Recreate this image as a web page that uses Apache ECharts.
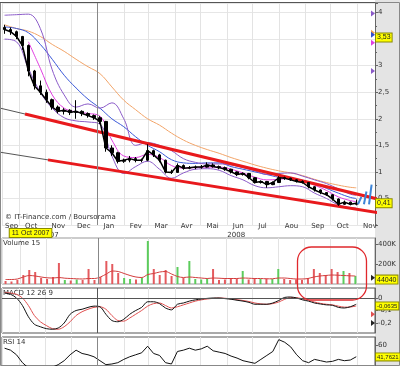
<!DOCTYPE html>
<html><head><meta charset="utf-8">
<script src="https://cdn.jsdelivr.net/npm/echarts@6/dist/echarts.min.js"></script>
<style>html,body{margin:0;padding:0;background:#fff}#c{width:400px;height:366px;background:linear-gradient(to right,#fff 375px,#e4e4e4 375px)}</style>
</head><body><div id="c"></div><script>
// ---------- data ----------
const weeks = ['2007-09-14','2007-09-21','2007-09-28','2007-10-05','2007-10-12','2007-10-19','2007-10-26','2007-11-02','2007-11-09','2007-11-16','2007-11-23','2007-11-30','2007-12-07','2007-12-14','2007-12-21','2007-12-28','2008-01-04','2008-01-11','2008-01-18','2008-01-25','2008-02-01','2008-02-08','2008-02-15','2008-02-22','2008-02-29','2008-03-07','2008-03-14','2008-03-21','2008-03-28','2008-04-04','2008-04-11','2008-04-18','2008-04-25','2008-05-02','2008-05-09','2008-05-16','2008-05-23','2008-05-30','2008-06-06','2008-06-13','2008-06-20','2008-06-27','2008-07-04','2008-07-11','2008-07-18','2008-07-25','2008-08-01','2008-08-08','2008-08-15','2008-08-22','2008-08-29','2008-09-05','2008-09-12','2008-09-19','2008-09-26','2008-10-03','2008-10-10','2008-10-17','2008-10-24','2008-10-31'];
const open  = [3.72,3.68,3.64,3.55,3.38,2.90,2.62,2.50,2.36,2.22,2.14,2.16,2.12,2.14,2.10,2.06,2.02,1.95,1.45,1.36,1.20,1.22,1.25,1.22,1.22,1.40,1.32,1.22,1.00,0.99,1.12,1.07,1.08,1.09,1.09,1.13,1.10,1.08,1.05,1.00,0.95,0.97,0.89,0.80,0.82,0.76,0.80,0.89,0.88,0.85,0.82,0.80,0.72,0.66,0.61,0.57,0.49,0.39,0.43,0.39];
const high  = [3.77,3.72,3.66,3.56,3.40,2.92,2.72,2.55,2.38,2.25,2.20,2.18,2.35,2.16,2.12,2.08,2.05,1.96,1.50,1.38,1.25,1.30,1.28,1.25,1.52,1.42,1.34,1.23,1.04,1.16,1.14,1.11,1.12,1.13,1.18,1.16,1.12,1.10,1.06,1.01,0.99,0.98,0.90,0.84,0.83,0.82,0.92,0.91,0.89,0.86,0.84,0.81,0.73,0.67,0.62,0.58,0.50,0.46,0.44,0.48];
const low   = [3.60,3.58,3.50,3.30,2.80,2.55,2.45,2.30,2.17,2.10,2.08,2.07,2.00,2.05,2.02,1.98,1.90,1.38,1.30,1.16,1.17,1.18,1.18,1.18,1.20,1.28,1.18,0.97,0.96,0.98,1.04,1.05,1.05,1.06,1.08,1.08,1.05,1.02,0.97,0.92,0.93,0.86,0.78,0.78,0.70,0.75,0.79,0.85,0.83,0.80,0.78,0.69,0.63,0.58,0.55,0.46,0.36,0.38,0.37,0.37];
const close = [3.68,3.64,3.55,3.38,2.90,2.62,2.50,2.36,2.22,2.14,2.16,2.12,2.14,2.10,2.06,2.02,1.95,1.45,1.36,1.20,1.22,1.25,1.22,1.22,1.40,1.32,1.22,1.00,0.99,1.12,1.07,1.08,1.09,1.09,1.13,1.10,1.08,1.05,1.00,0.95,0.97,0.89,0.80,0.82,0.76,0.80,0.89,0.88,0.85,0.82,0.80,0.72,0.66,0.61,0.57,0.49,0.39,0.43,0.39,0.41];
const volumeK = [30,25,40,90,140,120,60,50,70,210,40,35,45,40,150,40,70,230,200,110,60,50,45,60,430,150,90,140,80,170,60,230,50,45,50,150,40,45,60,50,130,45,60,50,55,50,150,50,40,45,40,60,150,110,90,150,120,130,110,80];
const volumeMA = [45,45,50,70,85,80,70,62,60,65,58,55,52,50,55,55,70,100,130,125,105,85,70,65,95,105,120,125,100,75,65,70,65,60,55,60,58,55,55,55,60,58,55,55,52,52,60,60,55,50,50,55,70,80,85,90,88,85,82,80];
const macd = [0.04,0.03,0.0,-0.06,-0.15,-0.21,-0.23,-0.245,-0.25,-0.24,-0.2,-0.13,-0.1,-0.09,-0.075,-0.065,-0.07,-0.13,-0.18,-0.19,-0.17,-0.13,-0.1,-0.075,-0.03,-0.03,-0.045,-0.08,-0.095,-0.05,-0.04,-0.025,-0.015,-0.008,-0.003,0.0,0.0,-0.005,-0.01,-0.018,-0.025,-0.035,-0.05,-0.05,-0.05,-0.04,-0.02,0.005,0.008,0.0,-0.015,-0.025,-0.04,-0.048,-0.055,-0.058,-0.075,-0.08,-0.07,-0.05];
const signal = [0.045,0.04,0.03,0.0,-0.06,-0.14,-0.19,-0.22,-0.245,-0.25,-0.23,-0.19,-0.14,-0.11,-0.09,-0.075,-0.07,-0.09,-0.14,-0.18,-0.185,-0.16,-0.13,-0.1,-0.065,-0.045,-0.04,-0.06,-0.08,-0.07,-0.055,-0.04,-0.025,-0.015,-0.008,-0.003,0.0,-0.002,-0.007,-0.013,-0.02,-0.028,-0.04,-0.047,-0.05,-0.045,-0.032,-0.01,0.003,0.003,-0.008,-0.018,-0.032,-0.043,-0.05,-0.055,-0.065,-0.073,-0.072,-0.064];
const rsi = [55,52,45,33,25,20,22,24,26,30,36,45,52,47,45,42,36,30,31,33,38,42,45,48,58,47,44,33,31,50,52,55,52,54,58,51,49,47,43,40,36,34,32,38,44,50,68,64,57,45,36,33,38,36,34,35,38,36,37,42];

const ovDates = ['2007-09-14','2007-09-28','2007-10-12','2007-10-26','2007-11-09','2007-11-23','2007-12-07','2007-12-21','2008-01-04','2008-01-18','2008-02-01','2008-02-15','2008-02-29','2008-03-14','2008-03-28','2008-04-11','2008-04-25','2008-05-09','2008-05-23','2008-06-06','2008-06-20','2008-07-04','2008-07-18','2008-08-01','2008-08-15','2008-08-29','2008-09-12','2008-09-26','2008-10-10','2008-10-24','2008-10-31'];
const bbUpper = [3.95,3.96,3.97,3.7,2.92,2.45,2.22,2.28,2.2,2.3,2.0,1.5,1.55,1.5,1.4,1.25,1.18,1.15,1.15,1.13,1.08,1.02,0.95,0.97,0.98,0.92,0.85,0.78,0.68,0.58,0.56];
const bbLower = [3.5,3.45,2.95,2.5,2.2,2.02,1.96,1.94,1.9,1.3,0.97,1.1,1.2,1.05,0.88,0.98,1.05,1.06,1.03,0.93,0.85,0.74,0.7,0.72,0.74,0.72,0.6,0.5,0.38,0.33,0.32];
const maShort = [null,null,3.45,2.95,2.45,2.2,2.13,2.1,2.05,1.6,1.3,1.27,1.33,1.27,1.12,1.07,1.08,1.09,1.09,1.05,0.98,0.9,0.85,0.86,0.88,0.83,0.75,0.65,0.53,0.46,0.44];
const maMid = [3.73,3.7,3.62,3.4,3.12,2.82,2.58,2.37,2.2,2.0,1.85,1.66,1.5,1.38,1.23,1.17,1.16,1.17,1.17,1.1,1.05,1.0,0.95,0.9,0.88,0.84,0.78,0.69,0.6,0.52,0.5];
const maLong = [3.77,3.7,3.65,3.55,3.4,3.27,3.12,2.98,2.85,2.6,2.35,2.17,2.0,1.88,1.73,1.6,1.5,1.42,1.35,1.27,1.2,1.13,1.07,1.02,0.98,0.93,0.86,0.8,0.75,0.71,0.7];

const upperTrend = [['2007-10-08',2.09],['2008-11-25',0.49]];
const upperTrendExt = [['2007-09-09',2.2],['2007-10-08',2.09]];
const lowerTrend = [['2007-11-04',1.226],['2008-11-28',0.228]];
const lowerTrendExt = [['2007-09-09',1.37],['2007-11-04',1.226]];
const arrows = [[['2008-11-02',0.39],['2008-11-06',0.53]],[['2008-11-09',0.39],['2008-11-12',0.63]],[['2008-11-15',0.39],['2008-11-18',0.76]]];

const monthNames = ['Jan','Fev','Mar','Avr','Mai','Jun','Jul','Aou','Sep','Oct','Nov','Dec'];
const yearLabels = [['2007','2007-09-11','2008-01-01'],['2008','2008-01-01','2008-11-22']];
const yearStart = '2008-01-01';
const axisMin = '2007-09-11', axisMax = '2008-11-22';
const cursorDate = ['2007-10-11','11 Oct 2007'];
const valueTags = [[0,3.53,'3,53'],[0,0.41,'0,41'],[1,44.04,'44040'],[2,-0.0635,'-0,0635'],[3,41.7621,'41,7621']];
const flagMarks = [[0,3.98,'#8a5ac8'],[0,3.62,'#f0a050'],[0,3.58,'#3050d0'],[0,3.43,'#e040e0'],[0,2.9,'#8a5ac8'],[1,62,'#222'],[2,-0.13,'#e05050'],[2,-0.2,'#222']];
const panelTitles = [[0,'Volume 15'],[1,'MACD 12 26 9'],[2,'RSI 14']];

// ---------- helpers ----------
const T = s => new Date(s + 'T00:00:00').getTime();
const pairs = (xs, ys) => xs.map((d, i) => [d, ys[i]]);
const FONT = 'DejaVu Sans';

function xAxis(grid, labels) {
  return {
    type: 'time', gridIndex: grid, min: T(axisMin), max: T(axisMax), splitNumber: 15,
    axisLine: {show: false}, axisTick: {show: false},
    splitLine: {show: true, lineStyle: {color: '#e3e3e3', width: 1}},
    axisLabel: labels ? {
      show: true, fontSize: 7, fontFamily: FONT, color: '#333', margin: -2, align: 'left', padding: [0,0,0,6],
      showMaxLabel: false, hideOverlap: false,
      formatter: v => monthNames[new Date(v).getMonth()]
    } : {show: false}
  };
}
const yLabel = {fontSize: 7, fontFamily: FONT, color: '#333', margin: 3};
const yLine = {show: true, lineStyle: {color: '#666'}};
const yTick = {show: true, length: 3, lineStyle: {color: '#666'}};
const comma = v => String(Math.round(v * 100) / 100).replace('.', ',');

const yearLine = (color) => ({silent: true, symbol: 'none', label: {show: false},
  lineStyle: {color: color, width: 1, type: 'solid'}, data: [{xAxis: T(yearStart)}]});

const lineS = (name, data, color, width, extra) => Object.assign({
  name, type: 'line', xAxisIndex: 0, yAxisIndex: 0, data, symbol: 'none', silent: true,
  lineStyle: {color, width}, itemStyle: {color}, z: 2
}, extra || {});

const option = {
  animation: false,
  grid: [
    {left: 2, top: 3, width: 373, height: 222, outerBoundsMode: 'none'},
    {left: 2, top: 238, width: 373, height: 46, show: true, borderColor: '#999', borderWidth: 1, outerBoundsMode: 'none'},
    {left: 2, top: 288, width: 373, height: 45, show: true, borderColor: '#555', borderWidth: 1, outerBoundsMode: 'none'},
    {left: 2, top: 337, width: 373, height: 47.4, show: true, borderColor: '#555', borderWidth: 1, outerBoundsMode: 'none'}
  ],
  xAxis: [xAxis(0, true), xAxis(1, false), xAxis(2, false), xAxis(3, false)],
  yAxis: [
    {type: 'value', gridIndex: 0, position: 'right', min: 0, max: 4.18, interval: 0.5,
     axisLine: yLine, axisTick: yTick, minorTick: {show: true, splitNumber: 2, length: 2, lineStyle: {color: '#666'}},
     splitLine: {show: true, lineStyle: {color: '#e6e6e6'}},
     axisLabel: Object.assign({showMinLabel: false, showMaxLabel: false, formatter: comma}, yLabel)},
    {type: 'value', gridIndex: 1, position: 'right', min: 0, max: 460, interval: 200,
     axisLine: yLine, axisTick: yTick, splitLine: {show: false},
     axisLabel: Object.assign({showMinLabel: false, showMaxLabel: false, formatter: v => v + 'K'}, yLabel)},
    {type: 'value', gridIndex: 2, position: 'right', min: -0.28, max: 0.08,
     axisLine: yLine, axisTick: Object.assign({customValues: [0, -0.1, -0.2]}, yTick), splitLine: {show: false},
     axisLabel: Object.assign({customValues: [0, -0.1, -0.2], formatter: comma}, yLabel)},
    {type: 'value', gridIndex: 3, position: 'right', min: 0, max: 72, interval: 20,
     axisLine: yLine, axisTick: yTick, splitLine: {show: false},
     axisLabel: Object.assign({showMinLabel: false, showMaxLabel: false}, yLabel)}
  ],
  series: [
    lineS('trendExtUp', upperTrendExt.map(p => [T(p[0]), p[1]]), '#555', 1),
    lineS('trendExtLow', lowerTrendExt.map(p => [T(p[0]), p[1]]), '#555', 1),
    lineS('trendUp', upperTrend.map(p => [T(p[0]), p[1]]), '#e8191c', 3, {z: 3}),
    lineS('trendLow', lowerTrend.map(p => [T(p[0]), p[1]]), '#e8191c', 3, {z: 3}),
    lineS('MM long', pairs(ovDates.map(T), maLong), '#f2a468', 1, {smooth: 0.4}),
    lineS('MM mid', pairs(ovDates.map(T), maMid), '#3a58d8', 1, {smooth: 0.4}),
    lineS('MM short', pairs(ovDates.map(T), maShort), '#e03ee0', 1, {smooth: 0.4}),
    lineS('BB up', pairs(ovDates.map(T), bbUpper), '#8a5ac8', 1, {smooth: 0.4}),
    lineS('BB low', pairs(ovDates.map(T), bbLower), '#8a5ac8', 1, {smooth: 0.4}),
    {name: 'price', type: 'candlestick', xAxisIndex: 0, yAxisIndex: 0, barWidth: 3, silent: true, z: 4,
     itemStyle: {color: '#000', color0: '#000', borderColor: '#000', borderColor0: '#000', borderWidth: 1},
     data: weeks.map((d, i) => [T(d), open[i], close[i], low[i], high[i]]),
     markLine: yearLine('#888')},
    lineS('close', pairs(weeks.map(T), close), '#000', 1.5, {z: 5,
     markLine: {silent: true, symbol: ['none', 'arrow'], symbolSize: [0, 7], label: {show: false},
       lineStyle: {color: '#3d85d8', width: 2, type: 'solid'},
       data: arrows.map(a => [{coord: [T(a[0][0]), a[0][1]]}, {coord: [T(a[1][0]), a[1][1]]}])}}),
    {name: 'volume', type: 'bar', xAxisIndex: 1, yAxisIndex: 1, barWidth: 2, silent: true,
     data: weeks.map((d, i) => ({value: [T(d), volumeK[i]], itemStyle: {color: close[i] >= open[i] ? '#5ccc5c' : '#e45a5e'}})),
     markLine: yearLine('#888')},
    {name: 'volMA', type: 'line', xAxisIndex: 1, yAxisIndex: 1, symbol: 'none', silent: true, smooth: 0.3,
     lineStyle: {color: '#d23c3c', width: 1}, data: pairs(weeks.map(T), volumeMA)},
    {name: 'signal', type: 'line', xAxisIndex: 2, yAxisIndex: 2, symbol: 'none', silent: true, smooth: 0.3,
     lineStyle: {color: '#e05050', width: 1}, data: pairs(weeks.map(T), signal),
     markLine: {silent: true, symbol: 'none', label: {show: false}, lineStyle: {color: '#555', width: 1, type: 'solid'},
       data: [{yAxis: 0}, {xAxis: T(yearStart)}]}},
    {name: 'macd', type: 'line', xAxisIndex: 2, yAxisIndex: 2, symbol: 'none', silent: true, smooth: 0.3,
     lineStyle: {color: '#111', width: 1}, data: pairs(weeks.map(T), macd)},
    {name: 'rsi', type: 'line', xAxisIndex: 3, yAxisIndex: 3, symbol: 'none', silent: true,
     lineStyle: {color: '#111', width: 1}, data: pairs(weeks.map(T), rsi), markLine: yearLine('#888')}
  ]
};

const chart = echarts.init(document.getElementById('c'));
chart.setOption(option);

// ---------- annotations positioned through the chart's own scales ----------
const G = [];
const yPx = (axis, v) => chart.convertToPixel({yAxisIndex: axis}, v);
const xPx = (d) => chart.convertToPixel({xAxisIndex: 0}, T(d));
const gridRects = [0,1,2,3].map(i => chart.getModel().getComponent('grid', i).coordinateSystem.getRect());
const plotRight = gridRects[0].x + gridRects[0].width;
const tagFont = t => (t.length > 5 ? '6px' : '7px') + ' "Liberation Sans"';

// outer frame
G.push({type: 'rect', silent: true, shape: {x: 0.5, y: 2.5, width: 399, height: 363}, style: {fill: null, stroke: '#888', lineWidth: 1}});
G.push({type: 'line', silent: true, shape: {x1: 0, y1: 2.5, x2: plotRight, y2: 2.5}, style: {stroke: '#555', lineWidth: 1}});

// first (partial) month label at the axis start
G.push({type: 'text', silent: true, x: gridRects[0].x + 3, y: gridRects[0].y + gridRects[0].height + 1,
  style: {text: monthNames[new Date(T(axisMin)).getMonth()], fill: '#333', font: '7px ' + FONT, verticalAlign: 'middle'}});

// watermark / titles
G.push({type: 'text', silent: true, x: 5, y: 217, style: {text: '\u00a9 IT-Finance.com / Boursorama', fill: '#333', font: '7px ' + FONT, verticalAlign: 'middle'}});
panelTitles.forEach(p => {
  const r = gridRects[p[0] + 1];
  G.push({type: 'text', silent: true, x: 3, y: r.y + 5, style: {text: p[1], fill: '#333', font: '7px ' + FONT, verticalAlign: 'middle'}});
});

// year labels centred over their visible span
yearLabels.forEach(yl => {
  const a = Math.max(xPx(yl[1]), gridRects[0].x), b = Math.min(xPx(yl[2]), plotRight);
  G.push({type: 'text', silent: true, x: (a + b) / 2, y: 235, style: {text: yl[0], fill: '#333', font: '7px ' + FONT, align: 'center', verticalAlign: 'middle'}});
});

// cursor date tag
G.push({type: 'text', silent: true, z: 10, x: xPx(cursorDate[0]) + 3, y: 233,
  style: {text: cursorDate[1], fill: '#222', font: '7px "Liberation Sans"', align: 'center', verticalAlign: 'middle',
    backgroundColor: '#ffff00', borderColor: '#8a8a00', borderWidth: 1, padding: [1, 2, 0, 2]}});

// small flag markers at right edge
flagMarks.forEach(f => {
  const y = yPx(f[0], f[1]);
  G.push({type: 'polygon', silent: true, z: 9, shape: {points: [[plotRight - 4, y - 3], [plotRight - 4, y + 3], [plotRight, y]]}, style: {fill: f[2]}});
});

// yellow value tags
valueTags.forEach(v => {
  const y = yPx(v[0], v[1]);
  G.push({type: 'text', silent: true, z: 10, x: plotRight + 1, y: y,
    style: {text: v[2], fill: '#222', font: tagFont(v[2]), verticalAlign: 'middle',
      backgroundColor: '#ffff00', borderColor: '#8a8a00', borderWidth: 1, padding: [1, 1, 0, 1]}});
});

// red rounded annotation around recent volume
{
  const x1 = xPx('2008-08-23'), x2 = xPx('2008-11-12');
  const y1 = yPx(1, 370), y2 = yPx(2, -0.016);
  G.push({type: 'rect', silent: true, z: 8, shape: {x: x1, y: y1, width: x2 - x1, height: y2 - y1, r: 14},
    style: {fill: null, stroke: '#e0282c', lineWidth: 1.3}});
}

chart.setOption({graphic: G});
</script></body></html>
